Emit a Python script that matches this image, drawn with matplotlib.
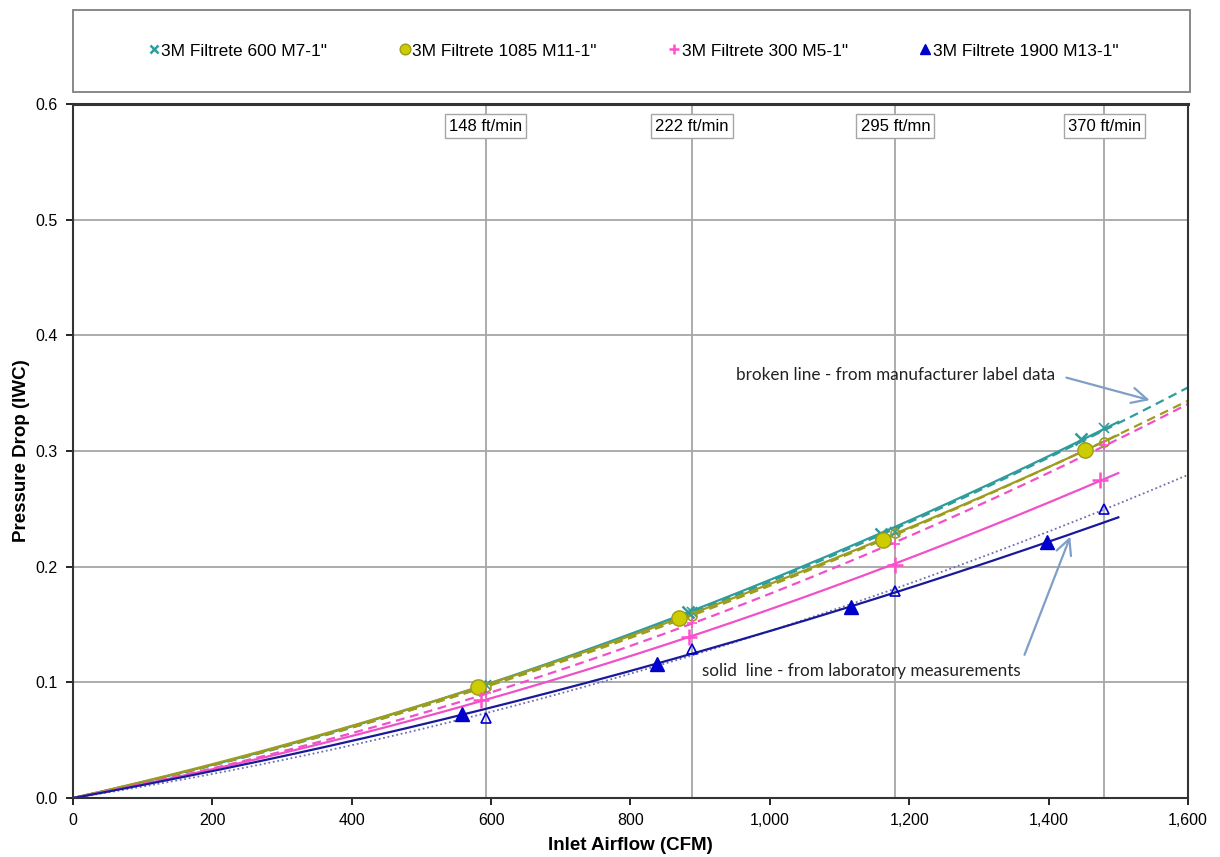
import numpy as np
import matplotlib
matplotlib.use("Agg")
import matplotlib.pyplot as plt
from matplotlib.patches import Rectangle

plt.rcParams['font.family'] = ['Liberation Sans', 'DejaVu Sans']

# face velocity grid (ft/min) and filter face area (sq ft)
face_velocity = [148, 222, 295, 370]
velocity_labels = ["148 ft/min", "222 ft/min", "295 ft/mn", "370 ft/min"]
filter_area = 4.0

names = ['3M Filtrete 600 M7-1"', '3M Filtrete 1085 M11-1"',
         '3M Filtrete 300 M5-1"', '3M Filtrete 1900 M13-1"']

# laboratory measurements (CFM, IWC)
lab_cfm = [
    [584, 883, 1160, 1447],
    [581, 870, 1162, 1452],
    [586, 884, 1180, 1474],
    [558, 838, 1117, 1397],
]
lab_dp = [
    [0.097, 0.161, 0.228, 0.310],
    [0.096, 0.156, 0.223, 0.301],
    [0.085, 0.139, 0.2015, 0.275],
    [0.0728, 0.116, 0.165, 0.2215],
]

# manufacturer label data at the face velocities
mfr_dp = [
    [0.098, 0.161, 0.230, 0.3195],
    [0.096, 0.157, 0.229, 0.308],
    [0.0905, 0.151, 0.220, 0.305],
    [0.069, 0.129, 0.179, 0.2495],
]

# styles
mcolor = ['#2E9C9C', '#CCCC00', '#FF4FD0', '#0000CC']
medge = ['#2E9C9C', '#9C9C1E', '#FF4FD0', '#0000CC']
lcolor = ['#2E9C9C', '#9C9C1E', '#F050C8', '#1A1A99']
dcolor = ['#2E9C9C', '#9C9C1E', '#F050C8', '#6F6FB0']
markers = ['x', 'o', '+', '^']
msize = [9, 11, 11, 10]


def quad_fit(x, y):
    # 2nd order trendline forced through zero
    x = np.asarray(x, float)
    A = np.column_stack([x, x ** 2])
    coef, *_ = np.linalg.lstsq(A, np.asarray(y, float), rcond=None)
    return lambda q: coef[0] * q + coef[1] * q ** 2


fig = plt.figure(figsize=(12.2, 8.57), dpi=100)
ax = fig.add_axes([0.0598, 0.0688, 0.9140, 0.8098])

mfr_cfm = [v * filter_area for v in face_velocity]
for cfm, lab in zip(mfr_cfm, velocity_labels):
    ax.axvline(cfm, color='#A6A6A6', lw=1.3, zorder=0)
    ax.text(cfm, 0.581, lab, ha='center', va='center', fontsize=12,
            bbox=dict(boxstyle='square,pad=0.25', fc='white', ec='#A6A6A6', lw=1),
            zorder=3)

for yv in [0.1, 0.2, 0.3, 0.4, 0.5]:
    ax.axhline(yv, color='#A6A6A6', lw=1.3, zorder=0)

x_lab = np.linspace(0, 1500, 200)
x_mfr = np.linspace(0, 1600, 200)
handles = []
for i in range(4):
    f = quad_fit(mfr_cfm, mfr_dp[i])
    if i == 3:
        ax.plot(x_mfr, f(x_mfr), color=dcolor[i], lw=1.3, ls=(0, (1, 1.5)), zorder=2)
    else:
        ax.plot(x_mfr, f(x_mfr), color=dcolor[i], lw=1.6, ls=(0, (4, 2.5)), zorder=2)
    f = quad_fit(lab_cfm[i], lab_dp[i])
    ax.plot(x_lab, f(x_lab), color=lcolor[i], lw=1.6, zorder=2)

for i in range(4):
    # manufacturer points (small, hollow)
    if markers[i] in ('x', '+'):
        ax.plot(mfr_cfm, mfr_dp[i], ls='none', marker=markers[i], ms=6.5,
                mew=1.2, color=mcolor[i], zorder=4)
    else:
        ax.plot(mfr_cfm, mfr_dp[i], ls='none', marker=markers[i], ms=6.5,
                mfc='none', mec=medge[i], mew=1.2, zorder=4)
    h, = ax.plot(lab_cfm[i], lab_dp[i], ls='none', marker=markers[i], ms=msize[i],
                 mfc=mcolor[i], mec=medge[i], mew=1.8 if markers[i] in ('x', '+') else 1.0,
                 color=mcolor[i], zorder=5, label=names[i])
    handles.append(h)

ax.set_xlim(0, 1600)
ax.set_ylim(0, 0.6)
ax.set_xticks(np.arange(0, 1601, 200))
ax.set_yticks(np.arange(0, 0.61, 0.1))
ax.xaxis.set_major_formatter(matplotlib.ticker.FuncFormatter(lambda v, p: f"{int(v):,}"))
ax.yaxis.set_major_formatter(matplotlib.ticker.FormatStrFormatter('%.1f'))
ax.tick_params(direction='out', length=5, width=1.2, labelsize=11.5, pad=6)
for s in ax.spines.values():
    s.set_color('#333333')
    s.set_linewidth(1.5)
ax.spines['top'].set_linewidth(2.2)

ax.set_xlabel('Inlet Airflow (CFM)', fontsize=13.5, fontweight='bold', labelpad=6)
ax.set_ylabel('Pressure Drop (IWC)', fontsize=13.5, fontweight='bold', labelpad=4)

arrow_kw = dict(arrowstyle='->,head_length=0.9,head_width=0.45', color='#7F9FC8', lw=1.6)
ax.annotate('broken line - from manufacturer label data', xy=(1545, 0.344),
            xytext=(1410, 0.366), ha='right', va='center', fontsize=12.3,
            family=['Lato', 'DejaVu Sans'], color='#222222',
            arrowprops=dict(**arrow_kw, relpos=(1.0, 0.5), shrinkA=6, shrinkB=0))
ax.annotate('solid  line - from laboratory measurements', xy=(1431, 0.226),
            xytext=(1360, 0.11), ha='right', va='center', fontsize=12.3,
            family=['Lato', 'DejaVu Sans'], color='#222222',
            arrowprops=dict(**arrow_kw, relpos=(1.0, 0.9), shrinkA=4, shrinkB=0))

# legend box above the plot
fig.patches.append(Rectangle((0.0598, 0.8926), 0.9156, 0.0957, transform=fig.transFigure,
                             fill=False, ec='#7F7F7F', lw=1.3))
fig.legend(handles=handles, loc='center', bbox_to_anchor=(0.519, 0.9405), ncol=4,
           frameon=False, fontsize=12.5, handlelength=0.7, handletextpad=0.1,
           columnspacing=4.1, markerscale=0.7)

fig.savefig('out.png', dpi=100)
